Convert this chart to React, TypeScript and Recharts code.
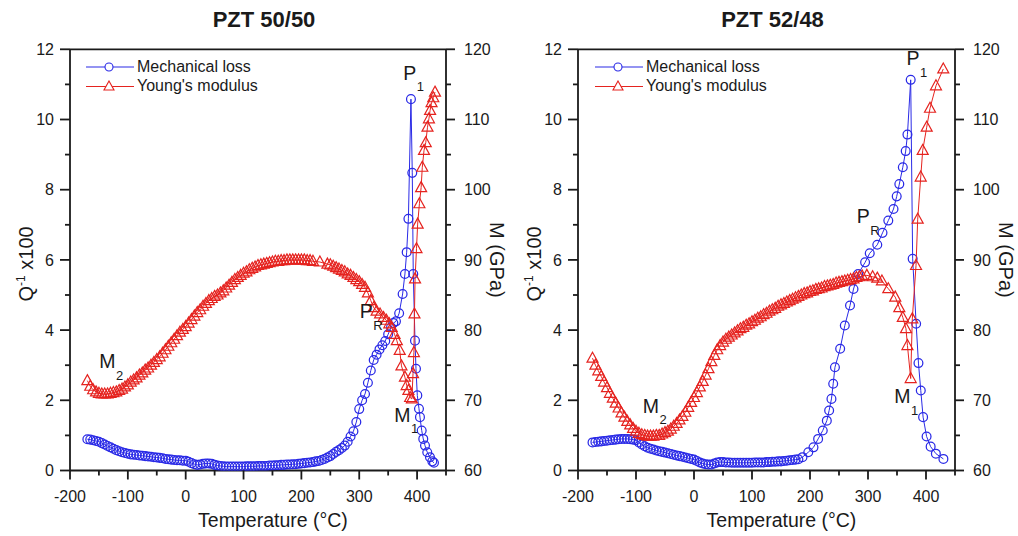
import React from "react";
import {
  Legend,
  ReferenceDot,
  ReferenceLine,
  Scatter,
  ScatterChart,
  XAxis,
  YAxis,
} from "recharts";

const FONT = "'Liberation Sans', Arial, Helvetica, sans-serif";
const INK = "#1a1a1a";
const BLUE = "#2a2ae6";
const RED = "#e5231f";

// PZT 50/50 - [temperature °C, Q^-1 x100]
const LOSS_50: [number, number][] = [
  [-170, 0.89], [-165, 0.88], [-160, 0.86], [-155, 0.84], [-150, 0.82], [-145, 0.78], [-140, 0.74],
  [-135, 0.7], [-130, 0.66], [-125, 0.62], [-120, 0.58], [-115, 0.55], [-110, 0.52], [-105, 0.5],
  [-100, 0.48], [-95, 0.46], [-90, 0.45], [-85, 0.44], [-80, 0.43], [-75, 0.42], [-70, 0.41],
  [-65, 0.4], [-60, 0.39], [-55, 0.38], [-50, 0.37], [-45, 0.36], [-40, 0.35], [-35, 0.33],
  [-30, 0.32], [-25, 0.31], [-20, 0.3], [-15, 0.29], [-10, 0.29], [-5, 0.28], [0, 0.28],
  [5, 0.25], [10, 0.21], [15, 0.18], [20, 0.16], [25, 0.17], [30, 0.19], [35, 0.2], [40, 0.2],
  [45, 0.19], [50, 0.16], [55, 0.14], [60, 0.13], [65, 0.12], [70, 0.11], [75, 0.11], [80, 0.11],
  [85, 0.11], [90, 0.11], [95, 0.11], [100, 0.11], [105, 0.12], [110, 0.12], [115, 0.12],
  [120, 0.12], [125, 0.13], [130, 0.13], [135, 0.13], [140, 0.13], [145, 0.14], [150, 0.14],
  [155, 0.15], [160, 0.15], [165, 0.16], [170, 0.16], [175, 0.17], [180, 0.17], [185, 0.18],
  [190, 0.18], [195, 0.19], [200, 0.2], [205, 0.21], [210, 0.22], [215, 0.23], [220, 0.24],
  [225, 0.26], [230, 0.27], [235, 0.3], [240, 0.33], [245, 0.37], [250, 0.41], [255, 0.47],
  [260, 0.53], [265, 0.58], [270, 0.64], [275, 0.71], [280, 0.82], [285, 0.97], [290, 1.12],
  [295, 1.38], [300, 1.75], [305, 2.0], [310, 2.18], [315, 2.5], [320, 2.85], [325, 3.15],
  [330, 3.3], [335, 3.45], [340, 3.57], [345, 3.69], [350, 3.88], [355, 4.08], [359, 4.2],
  [363.5, 4.25], [369, 4.48], [375, 5.03], [379, 5.6], [382, 6.22], [385, 7.17], [389.4, 10.58],
  [391.7, 8.48], [393.4, 5.6], [396.4, 3.7], [398.1, 2.9], [400.4, 2.14], [403.3, 1.76],
  [405, 1.52], [408, 1.14], [410.7, 0.9], [413.7, 0.71], [417.6, 0.52], [422.3, 0.38],
  [426.3, 0.26], [429.2, 0.22],
];

// PZT 50/50 - [temperature °C, M GPa]
const MOD_50: [number, number][] = [
  [-170, 72.8], [-165, 72.0], [-160, 71.5], [-155, 71.2], [-150, 71.0], [-145, 70.9], [-140, 70.9],
  [-135, 70.9], [-130, 71.0], [-125, 71.1], [-120, 71.2], [-115, 71.4], [-110, 71.6], [-105, 71.9],
  [-100, 72.2], [-95, 72.6], [-90, 72.9], [-85, 73.2], [-80, 73.6], [-75, 73.9], [-70, 74.3],
  [-65, 74.6], [-60, 75.0], [-55, 75.4], [-50, 75.8], [-45, 76.2], [-40, 76.7], [-35, 77.2],
  [-30, 77.7], [-25, 78.2], [-20, 78.7], [-15, 79.2], [-10, 79.7], [-5, 80.1], [0, 80.5],
  [5, 81.0], [10, 81.5], [15, 82.0], [20, 82.5], [25, 82.9], [30, 83.4], [35, 83.8], [40, 84.2],
  [45, 84.5], [50, 84.8], [55, 85.0], [60, 85.3], [65, 85.6], [70, 86.0], [75, 86.4], [80, 86.8],
  [85, 87.2], [90, 87.5], [95, 87.8], [100, 88.1], [105, 88.3], [110, 88.6], [115, 88.8],
  [120, 89.0], [125, 89.2], [130, 89.3], [135, 89.4], [140, 89.5], [145, 89.6], [150, 89.7],
  [155, 89.8], [160, 89.8], [165, 89.9], [170, 89.9], [175, 90.0], [180, 90.0], [185, 90.0],
  [190, 90.0], [195, 90.0], [200, 90.0], [205, 90.0], [210, 89.9], [215, 89.9], [220, 89.8],
  [232, 89.7], [245, 89.4], [250, 89.3], [255, 89.1], [260, 88.9], [265, 88.7], [270, 88.5],
  [275, 88.3], [280, 88.0], [285, 87.8], [290, 87.5], [295, 87.2], [300, 86.9], [305, 86.5],
  [310, 86.1], [315, 85.3], [320, 84.2], [325, 83.2], [330, 82.7], [336, 82.3], [342, 81.8],
  [347, 81.4], [352, 80.9], [356, 80.4], [361, 79.4], [365, 78.5], [370, 77.1], [373, 74.9],
  [379, 73.3], [382, 72.1], [385, 71.4], [388, 70.4], [391, 70.2], [393, 73.8], [394.5, 76.8],
  [395.5, 82.3], [396.5, 87.3], [399, 91.6], [401, 95.1], [404, 98.0], [407, 100.3], [409, 103.2],
  [412, 105.6], [415, 106.7], [418, 108.9], [420.5, 110.1], [422.5, 111.3], [425, 112.4],
  [428, 113.1], [431, 113.9],
];

// PZT 52/48 - [temperature °C, Q^-1 x100]
const LOSS_52: [number, number][] = [
  [-175, 0.8], [-170, 0.81], [-165, 0.82], [-160, 0.83], [-155, 0.84], [-150, 0.85], [-145, 0.86],
  [-140, 0.87], [-135, 0.88], [-130, 0.89], [-125, 0.9], [-120, 0.9], [-115, 0.9], [-110, 0.89],
  [-105, 0.88], [-100, 0.86], [-95, 0.8], [-90, 0.74], [-85, 0.69], [-80, 0.65], [-75, 0.62],
  [-70, 0.6], [-65, 0.57], [-60, 0.55], [-55, 0.53], [-50, 0.51], [-45, 0.49], [-40, 0.47],
  [-35, 0.45], [-30, 0.43], [-25, 0.41], [-20, 0.39], [-15, 0.37], [-10, 0.35], [-5, 0.33],
  [0, 0.31], [5, 0.27], [10, 0.23], [15, 0.2], [20, 0.18], [25, 0.17], [30, 0.17], [35, 0.2],
  [40, 0.23], [45, 0.24], [50, 0.24], [55, 0.23], [60, 0.23], [65, 0.22], [70, 0.22], [75, 0.22],
  [80, 0.22], [85, 0.22], [90, 0.22], [95, 0.22], [100, 0.22], [105, 0.23], [110, 0.23],
  [115, 0.23], [120, 0.23], [125, 0.24], [130, 0.24], [135, 0.25], [140, 0.25], [145, 0.26],
  [150, 0.26], [155, 0.27], [160, 0.28], [165, 0.29], [170, 0.3], [175, 0.31], [180, 0.32],
  [187, 0.38], [197, 0.52], [206, 0.66], [214, 0.9], [222, 1.14], [229, 1.42], [233, 1.71],
  [237, 2.04], [240, 2.47], [243, 2.94], [252, 3.47], [260, 4.13], [269, 4.7], [275, 5.17],
  [283, 5.6], [295, 5.93], [303, 6.19], [316, 6.43], [325, 6.77], [335, 7.12], [344, 7.45],
  [349.5, 7.81], [354, 8.16], [360, 8.64], [365, 9.1], [368, 9.57], [373.6, 11.13], [377, 6.03],
  [383, 4.18], [387, 3.06], [391, 2.28], [395, 1.52], [401, 0.97], [408, 0.68], [417, 0.48],
  [430, 0.33],
];

// PZT 52/48 - [temperature °C, M GPa]
const MOD_52: [number, number][] = [
  [-175, 76.0], [-170, 75.0], [-165, 74.2], [-160, 73.4], [-155, 72.6], [-150, 71.8], [-145, 71.0],
  [-140, 70.3], [-135, 69.6], [-130, 68.9], [-125, 68.2], [-120, 67.6], [-115, 67.0], [-110, 66.5],
  [-105, 66.0], [-100, 65.6], [-95, 65.3], [-90, 65.1], [-85, 65.0], [-80, 64.9], [-75, 64.9],
  [-70, 64.9], [-65, 65.0], [-60, 65.0], [-55, 65.2], [-50, 65.4], [-45, 65.6], [-40, 65.9],
  [-35, 66.3], [-30, 66.7], [-25, 67.2], [-20, 67.7], [-15, 68.3], [-10, 69.0], [-5, 69.7],
  [0, 70.4], [5, 71.1], [10, 71.9], [15, 72.7], [20, 73.6], [25, 74.5], [30, 75.5], [35, 76.4],
  [40, 77.2], [45, 77.8], [50, 78.3], [55, 78.7], [60, 79.0], [65, 79.3], [70, 79.6], [75, 79.9],
  [80, 80.2], [85, 80.4], [90, 80.7], [95, 80.9], [100, 81.2], [105, 81.4], [110, 81.7],
  [115, 81.9], [120, 82.2], [125, 82.4], [130, 82.7], [135, 82.9], [140, 83.1], [145, 83.4],
  [150, 83.6], [155, 83.8], [160, 84.0], [165, 84.2], [170, 84.4], [175, 84.6], [180, 84.8],
  [185, 85.0], [190, 85.2], [195, 85.3], [200, 85.5], [205, 85.6], [210, 85.8], [215, 85.9],
  [220, 86.0], [225, 86.2], [230, 86.3], [235, 86.4], [240, 86.5], [245, 86.7], [250, 86.8],
  [255, 86.9], [260, 87.0], [265, 87.1], [270, 87.2], [275, 87.3], [280, 87.5], [285, 87.6],
  [290, 87.7], [298, 87.8], [308, 87.6], [316, 87.4], [324, 87.0], [335, 85.9], [347, 84.7],
  [354, 83.2], [360, 81.8], [365.5, 80.2], [368, 77.8], [373.6, 73.1], [376.4, 81.6],
  [382.8, 89.2], [385.7, 95.8], [390.9, 101.8], [394.3, 105.6], [401.2, 108.9], [406.9, 111.6],
  [417.2, 114.8], [429.8, 117.2],
];

// peak / transition labels: [letter, subscript, temperature, Q^-1 x100]
const NOTES_50: [string, string, number, number][] = [
  ["P", "1", 376, 11.13],
  ["P", "R", 301, 4.34],
  ["M", "1", 360.5, 1.39],
  ["M", "2", -149.5, 2.91],
];
const NOTES_52: [string, string, number, number][] = [
  ["P", "1", 366.5, 11.55],
  ["P", "R", 280.5, 7.04],
  ["M", "1", 345.3, 1.91],
  ["M", "2", -88.4, 1.65],
];

const X_TICKS = [-200, -150, -100, -50, 0, 50, 100, 150, 200, 250, 300, 350, 400, 450];
const Q_TICKS = [0, 1, 2, 3, 4, 5, 6, 7, 8, 9, 10, 11, 12];
const M_TICKS = [60, 65, 70, 75, 80, 85, 90, 95, 100, 105, 110, 115, 120];

const AXIS_W = 1.8;

function XTick(props: any) {
  const { x, y, payload } = props;
  const v = payload.value as number;
  const major = v % 100 === 0 && v <= 400;
  return (
    <g>
      <line x1={x} y1={y} x2={x} y2={y + (major ? 9 : 5)} stroke={INK} strokeWidth={AXIS_W} />
      {major && (
        <text x={x} y={y + 31} textAnchor="middle" fontSize={16} fill={INK} fontFamily={FONT}>
          {v < 0 ? `-${Math.abs(v)}` : v}
        </text>
      )}
    </g>
  );
}

function QTick(props: any) {
  const { x, y, payload } = props;
  const v = payload.value as number;
  const major = v % 2 === 0;
  return (
    <g>
      <line x1={x} y1={y} x2={x - (major ? 10 : 5)} y2={y} stroke={INK} strokeWidth={AXIS_W} />
      {major && (
        <text x={x - 16} y={y} dy="0.36em" textAnchor="end" fontSize={16} fill={INK} fontFamily={FONT}>
          {v}
        </text>
      )}
    </g>
  );
}

function MTick(props: any) {
  const { x, y, payload } = props;
  const v = payload.value as number;
  const major = v % 10 === 0;
  return (
    <g>
      <line x1={x} y1={y} x2={x + (major ? 9 : 5)} y2={y} stroke={INK} strokeWidth={AXIS_W} />
      {major && (
        <text x={x + 18} y={y} dy="0.36em" textAnchor="start" fontSize={16} fill={INK} fontFamily={FONT}>
          {v}
        </text>
      )}
    </g>
  );
}

function QLabel(props: any) {
  const vb = props.viewBox;
  const cx = vb.x + vb.width - 44;
  const cy = vb.y + vb.height / 2 + 4;
  return (
    <text
      transform={`translate(${cx},${cy}) rotate(-90)`}
      textAnchor="middle"
      fontSize={20}
      fill={INK}
      fontFamily={FONT}
      dy="0.35em"
    >
      Q<tspan fontSize={12} dy={-8}>-1</tspan>
      <tspan dy={8}> x100</tspan>
    </text>
  );
}

function MLabel(props: any) {
  const vb = props.viewBox;
  const cx = vb.x + 51;
  const cy = vb.y + vb.height / 2;
  return (
    <text
      transform={`translate(${cx},${cy}) rotate(90)`}
      textAnchor="middle"
      fontSize={20}
      fill={INK}
      fontFamily={FONT}
      dy="0.35em"
    >
      M (GPa)
    </text>
  );
}

function TLabel(props: any) {
  const vb = props.viewBox;
  return (
    <text
      x={vb.x + vb.width / 2 + 15}
      y={vb.y + 56.5}
      textAnchor="middle"
      fontSize={19.5}
      fill={INK}
      fontFamily={FONT}
    >
      Temperature (°C)
    </text>
  );
}

const circleShape = (p: any) => (
  <circle cx={p.cx} cy={p.cy} r={4.4} fill="none" stroke={BLUE} strokeWidth={1.25} />
);

const triangleShape = (p: any) => (
  <path
    d={`M${p.cx},${p.cy - 6}L${p.cx + 5.5},${p.cy + 4}L${p.cx - 5.5},${p.cy + 4}Z`}
    fill="none"
    stroke={RED}
    strokeWidth={1.2}
  />
);

function LegendBox() {
  const row = { display: "flex", alignItems: "center", height: 19.5 } as const;
  return (
    <div style={{ fontFamily: FONT, fontSize: 16, color: INK, whiteSpace: "nowrap" }}>
      <div style={row}>
        <svg width={48} height={12}>
          <line x1={0} y1={6} x2={48} y2={6} stroke={BLUE} strokeWidth={1.2} />
          <circle cx={23} cy={6} r={4} fill="#fff" stroke={BLUE} strokeWidth={1.1} />
        </svg>
        <span style={{ marginLeft: 3 }}>Mechanical loss</span>
      </div>
      <div style={row}>
        <svg width={48} height={12}>
          <line x1={0} y1={6.5} x2={48} y2={6.5} stroke={RED} strokeWidth={1.2} />
          <path d="M23,1L28,10L18,10Z" fill="#fff" stroke={RED} strokeWidth={1.1} />
        </svg>
        <span style={{ marginLeft: 3 }}>Young's modulus</span>
      </div>
    </div>
  );
}

function Note(props: any) {
  const { cx, cy, main, sub } = props;
  return (
    <text x={cx} y={cy} fontSize={19.5} fill={INK} fontFamily={FONT}>
      {main}
      <tspan fontSize={13} dx={0.5} dy={11.5}>
        {sub}
      </tspan>
    </text>
  );
}

interface PanelProps {
  title: string;
  loss: [number, number][];
  modulus: [number, number][];
  notes: [string, string, number, number][];
  leftW: number;
}

function PZTPanel({ title, loss, modulus, notes, leftW }: PanelProps) {
  const lossData = loss.map(([t, q]) => ({ t, q }));
  const modData = modulus.map(([t, m]) => ({ t, m }));
  const rightW = 63;
  const plotCenter = leftW + (509 - leftW - rightW) / 2;
  return (
    <div style={{ position: "relative", width: 509, height: 536 }}>
      <div
        style={{
          position: "absolute",
          top: 7,
          left: plotCenter + 6 - 100,
          width: 200,
          textAlign: "center",
          fontFamily: FONT,
          fontWeight: "bold",
          fontSize: 22,
          lineHeight: "25px",
          color: INK,
        }}
      >
        {title}
      </div>
      <ScatterChart width={509} height={536} margin={{ top: 49.3, right: 0, bottom: 0, left: 0 }}>
        <XAxis
          dataKey="t"
          type="number"
          domain={[-200, 450]}
          ticks={X_TICKS}
          interval={0}
          height={65.5}
          tickSize={0}
          tickMargin={0}
          tickLine={false}
          tick={<XTick />}
          axisLine={{ stroke: INK, strokeWidth: AXIS_W }}
          label={<TLabel />}
          allowDataOverflow
        />
        <YAxis
          yAxisId="q"
          dataKey="q"
          type="number"
          domain={[0, 12]}
          ticks={Q_TICKS}
          interval={0}
          width={leftW}
          tickSize={0}
          tickMargin={0}
          tickLine={false}
          tick={<QTick />}
          axisLine={{ stroke: INK, strokeWidth: AXIS_W }}
          label={<QLabel />}
          allowDataOverflow
        />
        <YAxis
          yAxisId="m"
          dataKey="m"
          type="number"
          orientation="right"
          domain={[60, 120]}
          ticks={M_TICKS}
          interval={0}
          width={rightW}
          tickSize={0}
          tickMargin={0}
          tickLine={false}
          tick={<MTick />}
          axisLine={{ stroke: INK, strokeWidth: AXIS_W }}
          label={<MLabel />}
          allowDataOverflow
        />
        <ReferenceLine yAxisId="q" y={12} stroke={INK} strokeWidth={AXIS_W} />
        <Legend
          layout="vertical"
          align="center"
          verticalAlign="middle"
          wrapperStyle={{ top: 57, left: 86, width: "auto" }}
          content={<LegendBox />}
        />
        <Scatter
          name="Mechanical loss"
          data={lossData}
          yAxisId="q"
          line={{ stroke: BLUE, strokeWidth: 1 }}
          shape={circleShape}
          isAnimationActive={false}
        />
        <Scatter
          name="Young's modulus"
          data={modData}
          yAxisId="m"
          line={{ stroke: RED, strokeWidth: 1 }}
          shape={triangleShape}
          isAnimationActive={false}
        />
        {notes.map(([main, sub, t, q]) => (
          <ReferenceDot
            key={main + sub}
            yAxisId="q"
            x={t}
            y={q}
            r={0}
            shape={(p: any) => <Note cx={p.cx} cy={p.cy} main={main} sub={sub} />}
          />
        ))}
      </ScatterChart>
    </div>
  );
}

export default function App() {
  return (
    <div
      style={{
        position: "absolute",
        left: 0,
        top: 0,
        width: 1018,
        height: 536,
        background: "#fff",
        display: "flex",
      }}
    >
      <PZTPanel title="PZT 50/50" loss={LOSS_50} modulus={MOD_50} notes={NOTES_50} leftW={70} />
      <PZTPanel title="PZT 52/48" loss={LOSS_52} modulus={MOD_52} notes={NOTES_52} leftW={69} />
    </div>
  );
}
